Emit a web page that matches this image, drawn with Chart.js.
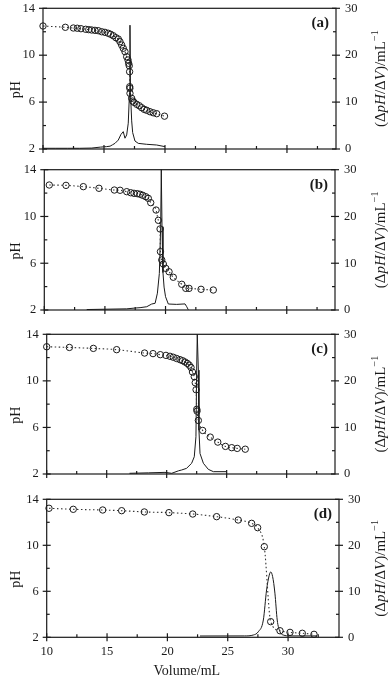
<!DOCTYPE html>
<html lang="en">
  <head>
    <meta charset="utf-8" />
    <title>Titration curves (a)-(d)</title>
    <style>
      * {
        margin: 0;
        padding: 0;
      }
      body {
        width: 388px;
        height: 679px;
        background: #fff;
        position: relative;
        overflow: hidden;
      }
      .panel {
        position: absolute;
        left: 0;
        width: 388px;
      }
      .panel canvas {
        display: block;
      }
    </style>
  </head>
  <body>
    <div class="panel" style="top: 0px"><canvas id="chartA" width="388" height="162"></canvas></div>
    <div class="panel" style="top: 162px"><canvas id="chartB" width="388" height="162"></canvas></div>
    <div class="panel" style="top: 324px"><canvas id="chartC" width="388" height="162"></canvas></div>
    <div class="panel" style="top: 486px"><canvas id="chartD" width="388" height="193"></canvas></div>

    <script src="https://cdn.jsdelivr.net/npm/chart.js"></script>

    <script>
      // ---- data ----
      // (a)
      const aVol = [10.0, 11.83, 12.49, 12.81, 13.11, 13.5, 13.75, 13.99, 14.26, 14.53, 14.81, 15.08, 15.35, 15.55, 15.76, 15.98, 16.17, 16.31, 16.45, 16.58, 16.72, 16.86, 16.97, 17.02, 17.07, 17.1, 17.11, 17.12, 17.13, 17.27, 17.35, 17.46, 17.68, 17.89, 18.09, 18.3, 18.5, 18.77, 19.04, 19.32, 19.96];
      const aPH = [12.49, 12.38, 12.32, 12.3, 12.26, 12.21, 12.18, 12.15, 12.12, 12.09, 12.0, 11.95, 11.87, 11.78, 11.66, 11.49, 11.38, 11.15, 10.87, 10.59, 10.3, 9.87, 9.59, 9.31, 9.1, 8.59, 7.31, 7.17, 6.75, 6.32, 6.09, 5.98, 5.81, 5.69, 5.52, 5.38, 5.3, 5.18, 5.09, 5.01, 4.8];
      const aDerivVol = [10.0, 11.0, 12.0, 13.0, 14.0, 14.7, 15.2, 15.5, 15.7, 15.9, 16.17, 16.39, 16.58, 16.72, 16.86, 16.99, 17.09, 17.13, 17.17, 17.27, 17.35, 17.54, 17.81, 18.5, 19.32, 20.0];
      const aDeriv = [0.15, 0.15, 0.15, 0.15, 0.2, 0.4, 0.5, 0.6, 0.9, 1.2, 1.9, 3.1, 3.7, 2.3, 3.0, 5.5, 12, 26.4, 12, 6, 3.5, 1.7, 1.2, 1.0, 0.85, 0.5];

      // (b)
      const bVol = [10.41, 11.79, 13.22, 14.51, 15.78, 16.25, 16.8, 17.13, 17.4, 17.67, 17.9, 18.12, 18.37, 18.58, 18.78, 19.22, 19.41, 19.55, 19.58, 19.69, 19.82, 20.02, 20.29, 20.64, 21.34, 21.67, 21.94, 22.93, 23.94];
      const bPH = [12.69, 12.66, 12.55, 12.41, 12.26, 12.24, 12.12, 12.03, 11.98, 11.95, 11.9, 11.81, 11.69, 11.55, 11.18, 10.55, 9.67, 8.93, 6.99, 6.28, 5.93, 5.56, 5.27, 4.8, 4.2, 3.85, 3.85, 3.77, 3.71];
      const bDerivVol = [13.5, 16.8, 17.4, 17.9, 18.45, 18.86, 19.14, 19.33, 19.49, 19.6, 19.65, 19.71, 19.79, 19.88, 20.0, 20.23, 20.92, 21.61, 21.75, 21.88];
      const bDeriv = [0.1, 0.25, 0.4, 0.5, 0.7, 1.28, 1.43, 3.6, 7.8, 17.8, 30, 17.8, 8.0, 4.9, 2.85, 1.28, 1.2, 1.3, 0.7, 0.05];

      // (c)
      const cVol = [10.0, 11.89, 13.89, 15.83, 18.16, 18.86, 19.47, 19.94, 20.28, 20.55, 20.83, 21.11, 21.33, 21.53, 21.72, 21.88, 22.03, 22.15, 22.3, 22.38, 22.45, 22.51, 22.53, 22.64, 23.0, 23.63, 24.26, 24.9, 25.42, 25.88, 26.55];
      const cPH = [12.93, 12.87, 12.79, 12.68, 12.39, 12.34, 12.25, 12.19, 12.11, 12.03, 11.92, 11.82, 11.73, 11.62, 11.5, 11.35, 11.15, 10.76, 10.36, 9.84, 9.24, 7.56, 7.4, 6.6, 5.74, 5.17, 4.74, 4.37, 4.26, 4.2, 4.13];
      const cDerivVol = [16.9, 18.5, 19.86, 20.42, 21.0, 21.25, 21.66, 22.08, 22.3, 22.44, 22.5, 22.55, 22.64, 22.69, 22.78, 23.06, 23.47, 23.89, 25.0];
      const cDeriv = [0.15, 0.25, 0.35, 0.15, 0.7, 0.86, 1.22, 2.3, 3.7, 8.0, 22.3, 30, 22.3, 9.4, 4.4, 2.3, 1.0, 0.5, 0.5];

      // (d)
      const dVol = [10.19, 12.2, 14.64, 16.21, 18.09, 20.13, 22.1, 24.08, 25.87, 26.98, 27.48, 28.03, 28.56, 29.33, 30.16, 31.18, 32.15];
      const dPH = [13.22, 13.13, 13.07, 13.01, 12.9, 12.84, 12.72, 12.49, 12.2, 11.91, 11.53, 9.88, 3.36, 2.57, 2.43, 2.35, 2.26];
      const dDerivVol = [22.7, 26.4, 27.12, 27.53, 27.95, 28.22, 28.44, 28.56, 28.72, 28.91, 29.1, 29.33, 29.6, 30.16, 32.4];
      const dDeriv = [0.28, 0.3, 0.5, 1.2, 3.76, 10.3, 13.5, 14.2, 13.2, 9.6, 3.76, 1.2, 0.5, 0.3, 0.3];

      // axis ticks
      const volTicks = [10, 12.5, 15, 17.5, 20, 22.5, 25, 27.5, 30, 32.5];
      const volLabels = [10, 15, 20, 25, 30];
      const phTicks = [2, 4, 6, 8, 10, 12, 14];
      const phLabels = [2, 6, 10, 14];
      const derivTicks = [0, 5, 10, 15, 20, 25, 30];
      const derivLabels = [0, 10, 20, 30];

      const INK = "#1a1a1a";
      const SERIF = "'Liberation Serif', 'Times New Roman', serif";
      Chart.defaults.font.family = SERIF;
      Chart.defaults.color = INK;

      // draw rotated text (bottom-to-top) made of pieces, some italic or superscript
      function rotatedText(ctx, parts, x, y, size) {
        const fontOf = (p) => `${p.italic ? "italic " : ""}${p.sup ? size * 0.68 : size}px ${SERIF}`;
        ctx.save();
        ctx.translate(x, y);
        ctx.rotate(-Math.PI / 2);
        ctx.textAlign = "left";
        ctx.textBaseline = "middle";
        let total = 0;
        parts.forEach((p) => {
          ctx.font = fontOf(p);
          total += ctx.measureText(p.text).width;
        });
        let cx = -total / 2;
        parts.forEach((p) => {
          ctx.font = fontOf(p);
          ctx.fillText(p.text, cx, p.sup ? -size * 0.38 : 0);
          cx += ctx.measureText(p.text).width;
        });
        ctx.restore();
      }

      // box, crossing tick marks, panel tag and axis titles
      const frame = {
        id: "frame",
        afterDraw(chart, args, opts) {
          const { ctx, chartArea: a, scales } = chart;
          ctx.save();
          ctx.strokeStyle = INK;
          ctx.fillStyle = INK;
          ctx.lineWidth = 1.2;
          ctx.strokeRect(a.left, a.top, a.right - a.left, a.bottom - a.top);

          const seg = (x1, y1, x2, y2) => {
            ctx.beginPath();
            ctx.moveTo(x1, y1);
            ctx.lineTo(x2, y2);
            ctx.stroke();
          };
          volTicks.forEach((v) => {
            const x = scales.x.getPixelForValue(v);
            if (volLabels.includes(v)) seg(x, a.bottom + 4, x, a.bottom - 4);
            else seg(x, a.bottom, x, a.bottom - 3);
          });
          phTicks.forEach((v) => {
            const y = scales.y.getPixelForValue(v);
            if (phLabels.includes(v)) seg(a.left - 4, y, a.left + 4, y);
            else seg(a.left, y, a.left + 3, y);
          });
          derivTicks.forEach((v) => {
            const y = scales.y2.getPixelForValue(v);
            if (derivLabels.includes(v)) seg(a.right - 4, y, a.right + 4, y);
            else seg(a.right - 3, y, a.right, y);
          });

          // (a) (b) ...
          ctx.font = `bold 15px ${SERIF}`;
          ctx.textAlign = "right";
          ctx.textBaseline = "middle";
          ctx.fillText(opts.tag, a.right - 7, a.top + 15);

          const mid = (a.top + a.bottom) / 2;
          rotatedText(ctx, [{ text: "pH" }], 16.5, mid + 11, 14);
          rotatedText(
            ctx,
            [
              { text: "(Δ" },
              { text: "pH", italic: true },
              { text: "/Δ" },
              { text: "V", italic: true },
              { text: ")/mL" },
              { text: "−1", sup: true },
            ],
            381,
            mid,
            15
          );

          if (opts.volTitle) {
            ctx.font = `14px ${SERIF}`;
            ctx.textAlign = "center";
            ctx.fillText("Volume/mL", (a.left + a.right) / 2 - 6, chart.height - 8);
          }
          ctx.restore();
        },
      };

      const pts = (xs, ys) => xs.map((x, i) => ({ x: x, y: ys[i] }));

      function titrationChart(id, g, tag, vol, ph, dv, dd, last) {
        const config = {
          type: "scatter",
          data: {
            datasets: [
              {
                label: "pH",
                data: pts(vol, ph),
                yAxisID: "y",
                showLine: true,
                borderColor: "#333",
                borderWidth: 1.1,
                borderDash: [1.5, 2.5],
                cubicInterpolationMode: "monotone",
                pointRadius: 3.2,
                pointBorderWidth: 1,
                pointBorderColor: INK,
                pointBackgroundColor: "rgba(0,0,0,0)",
                clip: false,
              },
              {
                label: "dpH/dV",
                data: pts(dv, dd),
                yAxisID: "y2",
                showLine: true,
                borderColor: INK,
                borderWidth: 1,
                cubicInterpolationMode: last ? "monotone" : "default",
                tension: 0,
                pointRadius: 0,
                clip: false,
              },
            ],
          },
          options: {
            responsive: false,
            animation: false,
            events: [],
            layout: { padding: { top: g.padTop, left: 0, right: 0, bottom: 0 } },
            plugins: {
              legend: { display: false },
              tooltip: { enabled: false },
              frame: { tag: tag, volTitle: last },
            },
            scales: {
              x: {
                type: "linear",
                min: 10,
                max: g.xMax,
                grid: { display: false, drawTicks: false },
                border: { display: false },
                afterBuildTicks: (s) => {
                  s.ticks = volTicks.map((v) => ({ value: v }));
                },
                // fixed box, no extra room for label overhang
                afterFit: (s) => {
                  s.height = g.xh;
                  s.paddingLeft = 0;
                  s.paddingRight = 0;
                },
                ticks: {
                  display: last,
                  autoSkip: false,
                  maxRotation: 0,
                  padding: 7,
                  font: { size: 12.5 },
                  callback: (v) => (volLabels.includes(v) ? v : ""),
                },
              },
              y: {
                position: "left",
                min: 2,
                max: 14,
                grid: { display: false, drawTicks: false },
                border: { display: false },
                afterBuildTicks: (s) => {
                  s.ticks = phTicks.map((v) => ({ value: v }));
                },
                afterFit: (s) => {
                  s.width = g.left;
                  s.paddingTop = 0;
                  s.paddingBottom = 0;
                },
                ticks: {
                  autoSkip: false,
                  padding: 8,
                  font: { size: 12.5 },
                  callback: (v) => (phLabels.includes(v) ? v : ""),
                },
              },
              y2: {
                position: "right",
                min: 0,
                max: 30,
                grid: { display: false, drawTicks: false },
                border: { display: false },
                afterBuildTicks: (s) => {
                  s.ticks = derivTicks.map((v) => ({ value: v }));
                },
                afterFit: (s) => {
                  s.width = 388 - g.right;
                  s.paddingTop = 0;
                  s.paddingBottom = 0;
                },
                ticks: {
                  autoSkip: false,
                  padding: 9,
                  font: { size: 12.5 },
                  callback: (v) => (derivLabels.includes(v) ? v : ""),
                },
              },
            },
          },
          plugins: [frame],
        };
        return new Chart(document.getElementById(id), config);
      }

      // panel placement inside each canvas
      const geomA = { padTop: 8.3, xh: 13, left: 43, right: 336, xMax: 34.02 };
      const geomB = { padTop: 7.7, xh: 14, left: 44.3, right: 335, xMax: 33.98 };
      const geomC = { padTop: 10.3, xh: 12, left: 46.7, right: 335, xMax: 34.03 };
      const geomD = { padTop: 13.3, xh: 41.7, left: 46.7, right: 339, xMax: 34.22 };

      titrationChart("chartA", geomA, "(a)", aVol, aPH, aDerivVol, aDeriv, false);
      titrationChart("chartB", geomB, "(b)", bVol, bPH, bDerivVol, bDeriv, false);
      titrationChart("chartC", geomC, "(c)", cVol, cPH, cDerivVol, cDeriv, false);
      titrationChart("chartD", geomD, "(d)", dVol, dPH, dDerivVol, dDeriv, true);
    </script>
  </body>
</html>
